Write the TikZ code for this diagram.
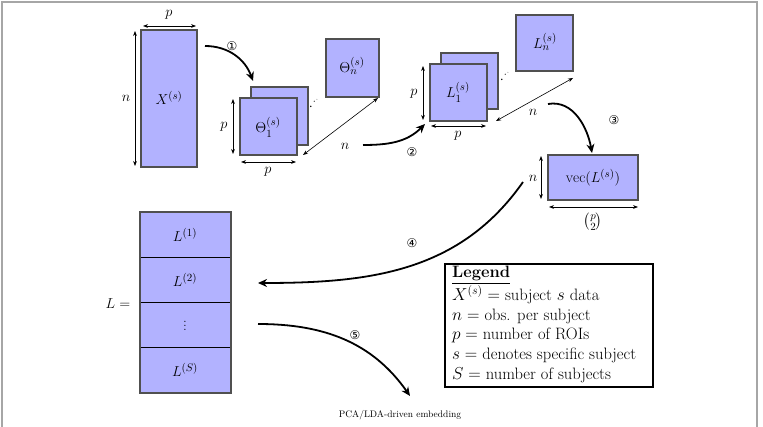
\documentclass[tikz,border=0pt]{standalone}
\usepackage{fontspec}
\usepackage{amsmath}
\newfontfamily\symf{DejaVu Sans}
\usetikzlibrary{arrows.meta}
\definecolor{boxfill}{RGB}{178,178,255}
\definecolor{boxedge}{RGB}{80,80,80}
\begin{document}
\begin{tikzpicture}[x=1pt,y=-1pt,
  every node/.style={font=\fontsize{15}{18}\selectfont},
  mat/.style={draw=boxedge,line width=1.8pt,fill=boxfill},
  dim/.style={{Stealth[length=5pt]}-{Stealth[length=5pt]},line width=0.6pt},
  bigarr/.style={-{Stealth[length=9pt,width=8pt]},line width=1.8pt},
  circ/.style={font=\symf\fontsize{12}{14}\selectfont}]
\useasboundingbox (0,0) rectangle (763,427);
\draw[gray!70,line width=1.2pt] (2,427) -- (2,2) -- (757,2) -- (757,427);
% X
\draw[mat] (141,30) rectangle (197,167);
\node at (169,98) {$X^{(s)}$};
\coordinate (xa) at (143,26); \coordinate (xb) at (196,26);
\draw[dim] (xa) -- (xb); \node at (169,15) {$p$};
\coordinate (xc) at (135,31); \coordinate (xd) at (135,166);
\draw[dim] (xc) -- (xd); \node at (126,98) {$n$};
% Theta
\draw[mat] (251,87) rectangle (308,145);
\draw[mat] (240,98) rectangle (297,155);
\node at (268,127) {$\Theta_1^{(s)}$};
\draw[mat] (326,39) rectangle (379,97);
\node at (352,66) {$\Theta_n^{(s)}$};
\node at (314,104) {$\cdot^{\cdot^{\cdot}}$};
\coordinate (ta) at (233,99); \coordinate (tb) at (233,154);
\draw[dim] (ta) -- (tb); \node at (224,127) {$p$};
\coordinate (tc) at (241,162); \coordinate (td) at (296,162);
\draw[dim] (tc) -- (td); \node at (268,172) {$p$};
\coordinate (te) at (303,155); \coordinate (tf) at (378,98);
\draw[dim] (te) -- (tf); \node at (345,146) {$n$};
% L
\draw[mat] (441,53) rectangle (498,109);
\draw[mat] (430,64) rectangle (487,121);
\node at (458,92) {$L_1^{(s)}$};
\draw[mat] (516,15) rectangle (573,71);
\node at (545,42) {$L_n^{(s)}$};
\node at (505,77) {$\cdot^{\cdot^{\cdot}}$};
\coordinate (la) at (423,66); \coordinate (lb) at (423,120);
\draw[dim] (la) -- (lb); \node at (414,94) {$p$};
\coordinate (lc) at (431,126); \coordinate (ld) at (486,126);
\draw[dim] (lc) -- (ld); \node at (458,136) {$p$};
\coordinate (le) at (496,121); \coordinate (lf) at (573,78);
\draw[dim] (le) -- (lf); \node at (533,112) {$n$};
% vec
\draw[mat] (548,155) rectangle (638,200);
\node at (593,178) {$\mathrm{vec}(L^{(s)})$};
\coordinate (va) at (541,156); \coordinate (vb) at (541,199);
\draw[dim] (va) -- (vb); \node at (533,178) {$n$};
\coordinate (vc) at (549,207); \coordinate (vd) at (638,207);
\draw[dim] (vc) -- (vd); \node at (593,222) {$\binom{p}{2}$};
% big L stack
\draw[mat] (140,212) rectangle (231,393);
\draw[line width=0.9pt] (141,257) -- (230,257) (141,302) -- (230,302) (141,347) -- (230,347);
\node at (185,235) {$L^{(1)}$};
\node at (185,280) {$L^{(2)}$};
\node at (185,323) {$\vdots$};
\node at (185,370) {$L^{(S)}$};
\node at (118,304) {$L=$};
% arrows
\coordinate (a1s) at (205,46); \coordinate (a1e) at (253,81);
\draw[bigarr] (a1s) to[out=0,in=110] (a1e);
\node[circ] at (232,46) {①};
\coordinate (a2s) at (363,145); \coordinate (a2e) at (425,124);
\draw[bigarr] (a2s) to[out=0,in=-135] (a2e);
\node[circ] at (412,152) {②};
\coordinate (a3s) at (548,104); \coordinate (a3e) at (592,153);
\draw[bigarr] (a3s) to[out=10,in=100] (a3e);
\node[circ] at (614,120) {③};
\coordinate (a4s) at (523,182); \coordinate (a4e) at (258,283);
\draw[bigarr] (a4s) to[out=-125,in=0] (a4e);
\node[circ] at (412,243) {④};
\coordinate (a5s) at (258,324); \coordinate (a5e) at (410,396);
\draw[bigarr] (a5s) to[out=0,in=125] (a5e);
\node[circ] at (355,335) {⑤};
\node[font=\fontsize{9.5}{11}\selectfont] at (400,415) {PCA/LDA-driven embedding};
% legend
\node[draw,line width=1.8pt,minimum width=208pt,minimum height=123pt,anchor=north west,inner sep=0pt] (leg) at (444,263) {};
\node[anchor=north west,align=left,font=\fontsize{16.5}{19.6}\selectfont,inner sep=0pt] at (452,266) {%
\underline{\textbf{Legend}}\\
$X^{(s)}=$ subject $s$ data\\
$n=$ obs. per subject\\
$p=$ number of ROIs\\
$s=$ denotes specific subject\\
$S=$ number of subjects};
\end{tikzpicture}
\end{document}
